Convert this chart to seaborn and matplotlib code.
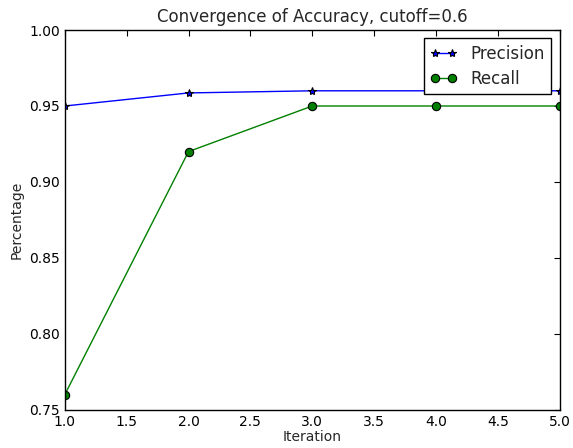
import matplotlib
matplotlib.use("Agg")
import matplotlib.pyplot as plt
import seaborn as sns
import pandas as pd

iterations = [1, 2, 3, 4, 5]
precision = [0.950, 0.9586, 0.960, 0.960, 0.960]
recall = [0.760, 0.920, 0.950, 0.950, 0.950]

sns.set_style("white")
plt.rcParams['font.family'] = ['DejaVu Sans']
plt.rcParams.update({
    'xtick.direction': 'in', 'ytick.direction': 'in',
    'xtick.top': True, 'ytick.right': True,
    'xtick.major.size': 4, 'ytick.major.size': 4,
    'xtick.major.width': 0.8, 'ytick.major.width': 0.8,
})

fig = plt.figure(figsize=(5.73, 4.48), dpi=100)
ax = fig.add_axes([0.113, 0.085, 0.864, 0.848])

df = pd.DataFrame({'Iteration': iterations, 'Precision': precision, 'Recall': recall})
sns.lineplot(data=df, x='Iteration', y='Precision', ax=ax, color='blue', marker='*',
             markersize=6, markeredgecolor='black', markerfacecolor='blue',
             markeredgewidth=0.8, linewidth=1, label='Precision')
sns.lineplot(data=df, x='Iteration', y='Recall', ax=ax, color='green', marker='o',
             markersize=6, markeredgecolor='black', markerfacecolor='green',
             markeredgewidth=0.8, linewidth=1, label='Recall')

ax.set_xlim(1.0, 5.0)
ax.set_ylim(0.75, 1.00)
ax.set_xticks([1.0, 1.5, 2.0, 2.5, 3.0, 3.5, 4.0, 4.5, 5.0])
ax.set_xticklabels(['1.0', '1.5', '2.0', '2.5', '3.0', '3.5', '4.0', '4.5', '5.0'])
ax.set_yticks([0.75, 0.80, 0.85, 0.90, 0.95, 1.00])
ax.set_yticklabels(['0.75', '0.80', '0.85', '0.90', '0.95', '1.00'])
ax.tick_params(labelsize=10, colors='black', direction='in', top=True, right=True)
for s in ax.spines.values():
    s.set_color('black')
    s.set_linewidth(1)
ax.set_xlabel('Iteration', fontsize=10, labelpad=1)
ax.set_ylabel('Percentage', fontsize=10)
ax.set_title('Convergence of Accuracy, cutoff=0.6', fontsize=12)
leg = ax.legend(loc='upper right', fontsize=12, frameon=True, fancybox=False,
                edgecolor='black', framealpha=1, borderaxespad=0.5, numpoints=2,
                handlelength=1.6, borderpad=0.4, labelspacing=0.4)
leg.get_frame().set_linewidth(1)

fig.savefig('out.png', dpi=100)
